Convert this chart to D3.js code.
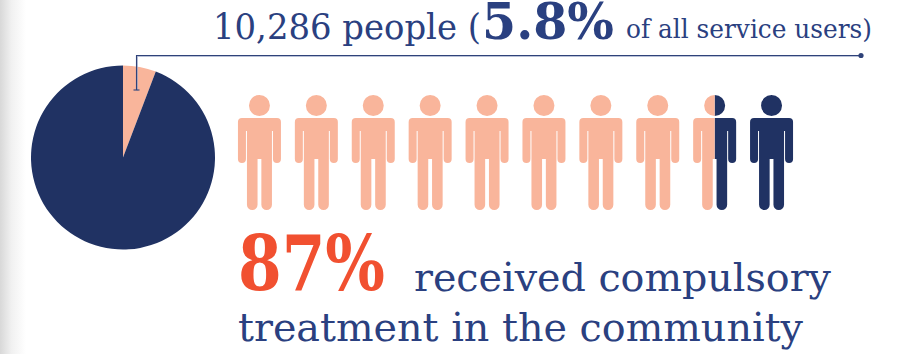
<!DOCTYPE html>
<html>
<head>
<meta charset="utf-8">
<script src="https://cdn.jsdelivr.net/npm/d3@7"></script>
<style>
  html, body { margin: 0; padding: 0; background: #fff; overflow: hidden; }
  svg { display: block; }
  text { font-family: "DejaVu Serif", serif; }
</style>
</head>
<body>
<script>
// Share of all service users on compulsory treatment
const pieLabels = ["compulsory treatment", "other service users"];
const pieValues = [5.8, 94.2];
// Peach share of each of the ten figures
const figureShares = [1, 1, 1, 1, 1, 1, 1, 1, 0.5, 0];

const colours = { peach: "#f9b59b", navy: "#203263", ink: "#2a4080", orange: "#f15030", rule: "#2f4279" };
const W = 903, H = 354;

const svg = d3.select("body").append("svg").attr("width", W).attr("height", H);
const defs = svg.append("defs");

// Soft grey fade along the left edge of the page
const fade = defs.append("linearGradient").attr("id", "edgeFade");
fade.append("stop").attr("offset", 0).attr("stop-color", "#d8d8d8");
fade.append("stop").attr("offset", 0.45).attr("stop-color", "#f1f1f1");
fade.append("stop").attr("offset", 1).attr("stop-color", "#ffffff");
svg.append("rect").attr("width", 26).attr("height", H).attr("fill", "url(#edgeFade)");

// Pie
const pie = d3.pie().sort(null)(pieValues);
const arc = d3.arc().innerRadius(0).outerRadius(92);
svg.append("g").attr("transform", "translate(123,157.5)")
  .selectAll("path").data(pie).join("path")
  .attr("d", arc)
  .attr("fill", (d, i) => i === 0 ? colours.peach : colours.navy);

// Leader from the slice to the headline
const leader = d3.path();
leader.moveTo(136.5, 90);
leader.lineTo(136.5, 55.5);
leader.lineTo(861, 55.5);
svg.append("path").attr("d", leader).attr("fill", "none")
  .attr("stroke", "#9aa6c6").attr("stroke-width", 1).attr("transform", "translate(0.7,0.7)");
svg.append("path").attr("d", leader).attr("fill", "none")
  .attr("stroke", colours.rule).attr("stroke-width", 1.1);
svg.append("line").attr("x1", 133.5).attr("x2", 139.5).attr("y1", 90).attr("y2", 90)
  .attr("stroke", colours.rule).attr("stroke-width", 1.1);
svg.append("circle").attr("cx", 861).attr("cy", 55.5).attr("r", 2.6).attr("fill", colours.rule);

// Row of figures
const x = d3.scaleBand().domain(d3.range(figureShares.length)).range([231, 800]);

function figurePath() {
  const p = d3.path();
  const hw = 21.5, top = 118, armEnd = 163, crotch = 159, foot = 210, r = 4;
  // head
  p.moveTo(10.5, 105.5);
  p.arc(0, 105.5, 10.5, 0, 2 * Math.PI);
  p.closePath();
  // shoulders, arms and legs
  p.moveTo(-hw + r, top);
  p.lineTo(hw - r, top);
  p.arcTo(hw, top, hw, top + r, r);
  p.lineTo(hw, armEnd - 4);
  p.arc(hw - 4, armEnd - 4, 4, 0, Math.PI);
  p.lineTo(hw - 8, 131);
  p.lineTo(12.5, 131);
  p.lineTo(12.5, foot - 5.3);
  p.arc(7.2, foot - 5.3, 5.3, 0, Math.PI);
  p.lineTo(1.9, crotch);
  p.lineTo(-1.9, crotch);
  p.lineTo(-1.9, foot - 5.3);
  p.arc(-7.2, foot - 5.3, 5.3, 0, Math.PI);
  p.lineTo(-12.5, 131);
  p.lineTo(-hw + 8, 131);
  p.lineTo(-hw + 8, armEnd - 4);
  p.arc(-hw + 4, armEnd - 4, 4, 0, Math.PI);
  p.lineTo(-hw, top + r);
  p.arcTo(-hw, top, -hw + r, top, r);
  p.closePath();
  return p.toString();
}

const figures = svg.append("g").selectAll("g").data(figureShares).join("g")
  .attr("transform", (d, i) => `translate(${x(i) + x.bandwidth() / 2},0)`);

// Each figure is split into a peach part and a navy part, so no colour shows through the other
figures.append("clipPath").attr("id", (d, i) => `peach-${i}`)
  .append("rect")
  .attr("x", -23).attr("y", 90)
  .attr("width", d => d === 0 ? 0 : d === 1 ? 46 : 23).attr("height", 125);
figures.append("clipPath").attr("id", (d, i) => `navy-${i}`)
  .append("rect")
  .attr("x", d => d === 0 ? -23 : 0).attr("y", 90)
  .attr("width", d => d === 1 ? 0 : d === 0 ? 46 : 23).attr("height", 125);

figures.append("path").attr("d", figurePath()).attr("fill", colours.navy)
  .attr("clip-path", (d, i) => `url(#navy-${i})`);
figures.append("path").attr("d", figurePath()).attr("fill", colours.peach)
  .attr("clip-path", (d, i) => `url(#peach-${i})`);

// Captions, each run fitted to its measured width
const runs = [
  { t: "10,286 people (", x: 213, y: 39, size: 36, w: 268, col: colours.ink },
  { t: "5.8%", x: 482, y: 39, size: 50, w: 132, col: colours.ink, bold: true },
  { t: "of all service users)", x: 626, y: 38, size: 26, w: 246, col: colours.ink },
  { t: "87%", x: 238, y: 290, size: 76, w: 147, col: colours.orange, bold: true },
  { t: "received compulsory", x: 414, y: 291, size: 40, w: 417, col: colours.ink },
  { t: "treatment in the community", x: 238, y: 341, size: 40, w: 565, col: colours.ink }
];
svg.append("g").selectAll("text").data(runs).join("text")
  .attr("x", d => d.x).attr("y", d => d.y)
  .attr("font-size", d => d.size)
  .attr("font-weight", d => d.bold ? 700 : 400)
  .attr("fill", d => d.col)
  .attr("textLength", d => d.w)
  .attr("lengthAdjust", "spacingAndGlyphs")
  .text(d => d.t);
</script>
</body>
</html>
